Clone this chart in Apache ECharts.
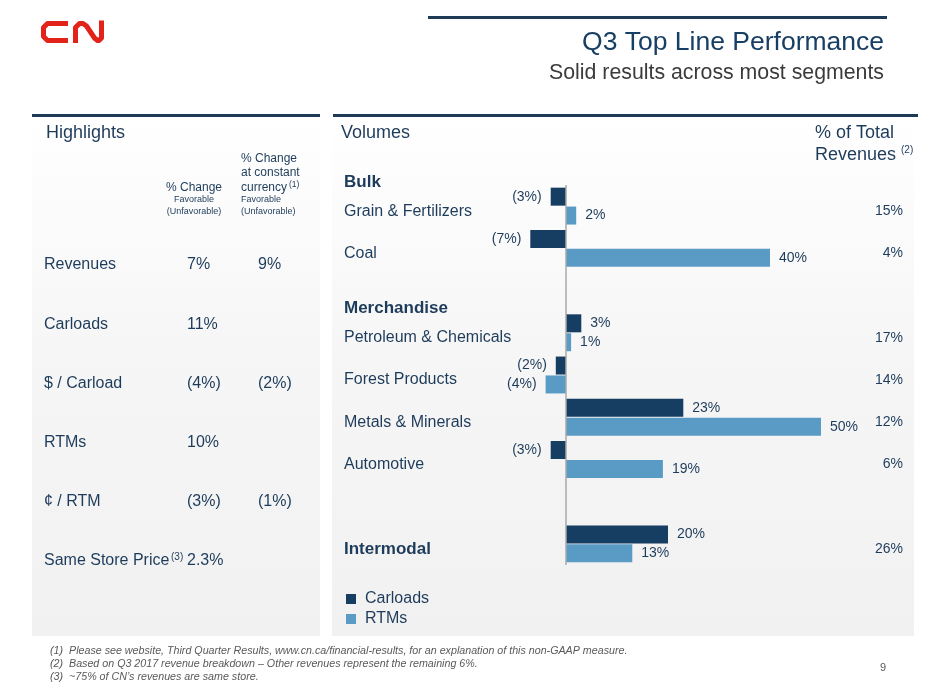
<!DOCTYPE html>
<html>
<head>
<meta charset="utf-8">
<script src="https://cdn.jsdelivr.net/npm/echarts@6/dist/echarts.min.js"></script>
<style>html,body{margin:0;padding:0;background:#fff}#c{width:937px;height:688px}</style>
</head>
<body>
<div id="c"></div>
<script>
// ---- data ----
const categories = ['Grain & Fertilizers', 'Coal', '', 'Petroleum & Chemicals', 'Forest Products', 'Metals & Minerals', 'Automotive', '', 'Intermodal'];
const carloads = [-3, -7, null, 3, -2, 23, -3, null, 20];
const rtms = [2, 40, null, 1, -4, 50, 19, null, 13];
const revenueShare = ['15%', '4%', '', '17%', '14%', '12%', '6%', '', '26%'];
const groupHeaders = ['Bulk', 'Merchandise'];
const hlLabels = ['Revenues', 'Carloads', '$ / Carload', 'RTMs', '¢ / RTM', 'Same Store Price'];
const hlChange = ['7%', '11%', '(4%)', '10%', '(3%)', '2.3%'];
const hlConstant = ['9%', '', '(2%)', '', '(1%)', ''];
const footnotes = [
  '(1)  Please see website, Third Quarter Results, www.cn.ca/financial-results, for an explanation of this non-GAAP measure.',
  '(2)  Based on Q3 2017 revenue breakdown \u2013 Other revenues represent the remaining 6%.',
  '(3)  ~75% of CN\u2019s revenues are same store.'
];

const FF = '"Liberation Sans", Arial, sans-serif';
const NAVY = '#1d3b5a';
const DARK = '#163d62';
const LIGHT = '#5a9bc6';

function fmt(v) { return v < 0 ? '(' + (-v) + '%)' : v + '%'; }
function items(arr) {
  return arr.map(v => v === null ? null : { value: v, label: { position: v < 0 ? 'left' : 'right' } });
}

const g = [];
function txt(t, x, y, size, opts) {
  opts = opts || {};
  g.push({ type: 'text', z: 10, style: Object.assign({
    text: t, x: x, y: y, fontSize: size, fontFamily: FF, fill: NAVY,
    textAlign: 'left', textVerticalAlign: 'middle'
  }, opts) });
}
const grad = { type: 'linear', x: 0, y: 0, x2: 0, y2: 1, colorStops: [
  { offset: 0, color: '#ffffff' }, { offset: 0.45, color: '#f6f6f6' }, { offset: 1, color: '#f1f1f1' }] };
g.push({ type: 'rect', z: -10, shape: { x: 32, y: 118, width: 288, height: 518 }, style: { fill: grad } });
g.push({ type: 'rect', z: -10, shape: { x: 332, y: 118, width: 582, height: 518 }, style: { fill: grad } });
// rules
g.push({ type: 'line', z: 10, shape: { x1: 428, y1: 17.5, x2: 887, y2: 17.5 }, style: { stroke: '#1d3b57', lineWidth: 3 } });
g.push({ type: 'line', z: 10, shape: { x1: 32, y1: 115.5, x2: 320, y2: 115.5 }, style: { stroke: '#1d3b57', lineWidth: 3 } });
g.push({ type: 'line', z: 10, shape: { x1: 333, y1: 115.5, x2: 918, y2: 115.5 }, style: { stroke: '#1d3b57', lineWidth: 3 } });
// logo
g.push({ type: 'polyline', z: 10, shape: { points: [[68,23.5],[47.5,23.5],[43.5,27.5],[43.5,36.5],[47.5,40.5],[68,40.5]] },
  style: { stroke: '#e2231a', lineWidth: 5, fill: null, lineJoin: 'round' } });
g.push({ type: 'polyline', z: 10, shape: { points: [[75.5,43],[75.5,27.5],[79.5,23.5],[83,23.5],[86.5,26],[94.5,38],[97.5,40.5],[99,40.5],[101.5,38],[101.5,20.5]] },
  style: { stroke: '#e2231a', lineWidth: 5, fill: null, lineJoin: 'round' } });
// titles
txt('Q3 Top Line Performance', 884, 42.5, 26.5, { textAlign: 'right', fill: '#173e63' });
txt('Solid results across most segments', 884, 73.5, 21.3, { textAlign: 'right', fill: '#3b3b3b' });
txt('Highlights', 46, 133, 18);
txt('Volumes', 341, 133, 18);
txt('% of Total', 815, 133, 18);
txt('Revenues', 815, 155, 18);
txt('(2)', 901, 150, 10);
// highlight headers
txt('% Change', 194, 188, 12, { textAlign: 'center' });
txt('Favorable', 194, 200, 9, { textAlign: 'center' });
txt('(Unfavorable)', 194, 212, 9, { textAlign: 'center' });
txt('% Change', 241, 159, 12);
txt('at constant', 241, 173, 12);
txt('currency', 241, 188, 12);
txt('(1)', 289, 185, 8.5);
txt('Favorable', 241, 200, 9);
txt('(Unfavorable)', 241, 212, 9);
hlLabels.forEach((l, i) => {
  const y = 265 + i * 59.2;
  txt(l, 44, y, 16);
  txt(hlChange[i], 187, y, 16);
  if (hlConstant[i]) txt(hlConstant[i], 258, y, 16);
});
txt('(3)', 171, 557, 10);
// group headers
txt(groupHeaders[0], 344, 182, 17, { fontWeight: 'bold' });
txt(groupHeaders[1], 344, 308, 17, { fontWeight: 'bold' });
// footnotes
footnotes.forEach((f, i) => txt(f, 50, 651.5 + i * 13, 10.7, { fill: '#595959', fontStyle: 'italic' }));
txt('9', 880, 668, 11, { fill: '#595959' });

const labelCommon = { show: true, fontSize: 14, fontFamily: FF, color: NAVY, distance: 9, formatter: p => fmt(p.value) };

const option = {
  animation: false,
  backgroundColor: '#ffffff',
  graphic: { elements: g },
  legend: {
    data: ['Carloads', 'RTMs'], orient: 'vertical', left: 346, top: 591, padding: 0,
    icon: 'rect', itemWidth: 10, itemHeight: 10, itemGap: 4,
    textStyle: { fontSize: 16, fontFamily: FF, color: NAVY, padding: [0, 0, 0, 4] }
  },
  grid: { left: 515, right: 65, top: 185, bottom: 123, containLabel: false },
  xAxis: { type: 'value', min: -10, max: 60, show: false },
  yAxis: [{
    type: 'category', data: categories, inverse: true, position: 'left',
    axisLine: { show: false }, axisTick: { show: false },
    axisLabel: {
      margin: 171, align: 'left', fontSize: 16, fontFamily: FF, color: NAVY, padding: [10, 0, 0, 0],
      formatter: v => v === 'Intermodal' ? '{b|' + v + '}' : v,
      rich: { b: { fontSize: 17, fontWeight: 'bold', fontFamily: FF, color: NAVY } }
    }
  }, {
    type: 'category', data: categories, inverse: true, position: 'right',
    axisLine: { show: false, onZero: false }, axisTick: { show: false },
    axisLabel: {
      margin: 31, align: 'right', fontSize: 14, fontFamily: FF, color: NAVY,
      formatter: (v, i) => revenueShare[i] ? '{a|' + revenueShare[i] + '}' : '',
      rich: { a: { fontSize: 14, fontFamily: FF, color: NAVY, padding: [10, 0, 0, 0] } }
    }
  }],
  series: [{
    name: 'Carloads', type: 'bar', data: items(carloads), barWidth: 18, barGap: '5%',
    itemStyle: { color: DARK }, label: labelCommon,
    markLine: { silent: true, symbol: 'none', label: { show: false },
      lineStyle: { color: '#a9a9a9', width: 1.5, type: 'solid' }, data: [{ xAxis: 0 }] }
  }, {
    name: 'RTMs', type: 'bar', data: items(rtms), barWidth: 18, barGap: '5%',
    itemStyle: { color: LIGHT }, label: labelCommon
  }]
};
const chart = echarts.init(document.getElementById('c'), null, { renderer: 'canvas' });
chart.setOption(option);
</script>
</body>
</html>
